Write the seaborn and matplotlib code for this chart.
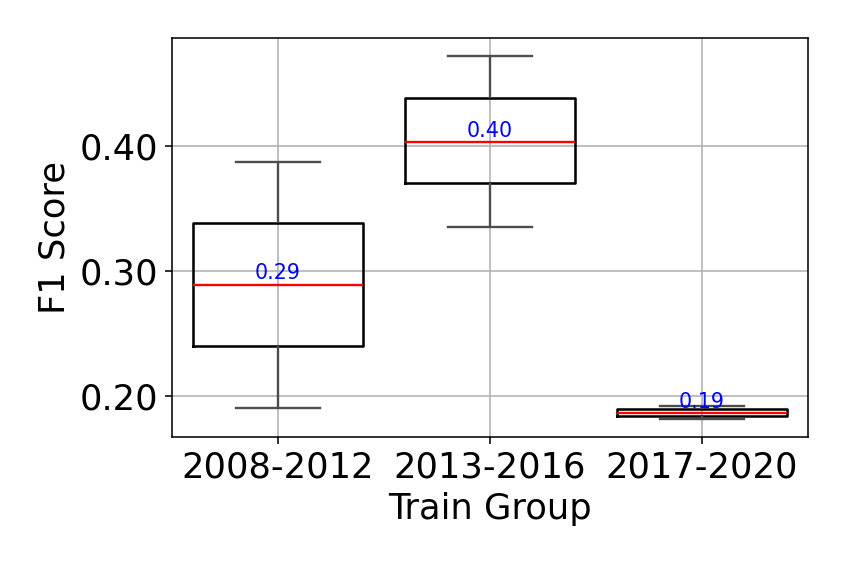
import pandas as pd
import numpy as np
import matplotlib
matplotlib.use('Agg')
import matplotlib.pyplot as plt
import seaborn as sns

# five-number summaries (min, q1, median, q3, max)
groups = ['2008-2012', '2013-2016', '2017-2020']
f1_2008_2012 = [0.190, 0.240, 0.289, 0.338, 0.387]
f1_2013_2016 = [0.335, 0.370, 0.403, 0.438, 0.472]
f1_2017_2020 = [0.1816, 0.184, 0.1864, 0.1896, 0.192]

df = pd.DataFrame({
    'train_group': np.repeat(groups, 5),
    'f1': f1_2008_2012 + f1_2013_2016 + f1_2017_2020,
})

DPI = 141.2
plt.rcParams['font.family'] = ['DejaVu Sans']
fig = plt.figure(figsize=(847 / DPI, 565 / DPI), dpi=DPI)
ax = fig.add_axes([0.203, 0.227, 0.751, 0.706])

sns.boxplot(data=df, x='train_group', y='f1', order=groups, ax=ax,
            fill=False, width=0.8, whis=(0, 100), color='black',
            boxprops=dict(color='black', linewidth=1.3),
            medianprops=dict(color='red', linewidth=1.2),
            whiskerprops=dict(color='#4d4d4d', linewidth=1.2),
            capprops=dict(color='#4d4d4d', linewidth=1.2))

# median labels
meds = df.groupby('train_group')['f1'].median().reindex(groups)
for i, m in enumerate(meds):
    ax.text(i, m + 0.001, f'{m:.2f}', ha='center', va='bottom',
            color='blue', fontsize=10.5)

ax.grid(True)
ax.set_axisbelow(True)
ax.set_yticks([0.20, 0.30, 0.40])
ax.set_yticklabels(['0.20', '0.30', '0.40'])
ax.tick_params(labelsize=18)
ax.set_xlabel('Train Group', fontsize=18)
ax.set_ylabel('F1 Score', fontsize=18)
ax.set_xlim(-0.5, 2.5)
ax.set_ylim(0.1672, 0.4864)

fig.savefig('out.png', dpi=DPI)
